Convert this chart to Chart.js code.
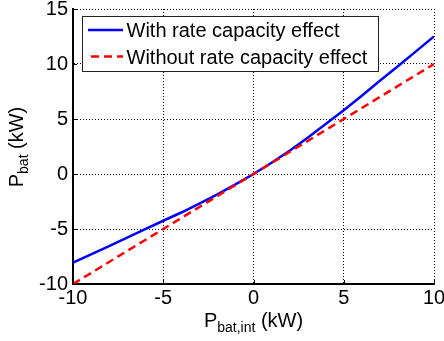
<!DOCTYPE html>
<html>
<head>
<meta charset="utf-8">
<script src="https://cdn.jsdelivr.net/npm/chart.js@4.4.0/dist/chart.umd.min.js"></script>
<style>
  html, body { margin: 0; padding: 0; background: #fff; }
  #wrap { width: 444px; height: 341px; }
</style>
</head>
<body>
<div id="wrap"><canvas id="c" width="444" height="341"></canvas></div>
<script>
// ---- data ----
const pInt = [-10, -9, -8, -7, -6, -5, -4, -3, -2, -1, 0, 1, 2, 3, 4, 5, 6, 7, 8, 9, 10];
const withRate = [-8.05, -7.3, -6.55, -5.78, -5.02, -4.25, -3.5, -2.7, -1.85, -0.95, 0, 1.02, 2.12, 3.3, 4.55, 5.8, 7.12, 8.47, 9.8, 11.15, 12.5];
const withoutRate = [-10, -9, -8, -7, -6, -5, -4, -3, -2, -1, 0, 1, 2, 3, 4, 5, 6, 7, 8, 9, 10];
const seriesNames = ['With rate capacity effect', 'Without rate capacity effect'];
const xTicks = [-10, -5, 0, 5, 10];
const yTicks = [-10, -5, 0, 5, 10, 15];
const xTitle = ['P', 'bat,int', ' (kW)'];
const yTitle = ['P', 'bat', ' (kW)'];

const FONT = '"Liberation Sans", Arial, Helvetica, sans-serif';

const toXY = (xs, ys) => xs.map((x, i) => ({ x: x, y: ys[i] }));

const decorPlugin = {
  id: 'decor',
  afterDraw(chart) {
    const ctx = chart.ctx;
    const ca = chart.chartArea;
    const xs = chart.scales.x, ys = chart.scales.y;
    ctx.save();
    // inward tick marks
    ctx.strokeStyle = '#000';
    ctx.lineWidth = 1;
    ctx.setLineDash([]);
    xTicks.forEach(v => {
      const px = Math.round(xs.getPixelForValue(v)) + 0.5;
      ctx.beginPath(); ctx.moveTo(px, ca.bottom); ctx.lineTo(px, ca.bottom - 4); ctx.stroke();
    });
    yTicks.forEach(v => {
      const py = Math.round(ys.getPixelForValue(v)) + 0.5;
      ctx.beginPath(); ctx.moveTo(ca.left, py); ctx.lineTo(ca.left + 4, py); ctx.stroke();
    });

    // legend
    const lx = 82, ly = 16, lw = 296, lh = 55;
    ctx.fillStyle = '#fff';
    ctx.fillRect(lx, ly, lw, lh);
    ctx.strokeStyle = '#222';
    ctx.lineWidth = 1;
    ctx.strokeRect(lx + 0.5, ly + 0.5, lw, lh);
    const rows = [30, 56.5];
    chart.data.datasets.forEach((ds, i) => {
      const y = rows[i];
      ctx.strokeStyle = ds.borderColor;
      ctx.lineWidth = ds.borderWidth;
      ctx.setLineDash(ds.borderDash || []);
      ctx.beginPath(); ctx.moveTo(i === 0 ? 88 : 91, y); ctx.lineTo(123, y); ctx.stroke();
      ctx.setLineDash([]);
      ctx.fillStyle = '#000';
      ctx.font = '20px ' + FONT;
      ctx.textBaseline = 'alphabetic';
      ctx.textAlign = 'left';
      ctx.fillText(ds.label, 126.5, y + 7);
    });

    // axis titles with subscripts
    const drawSub = (parts, x0, y0) => {
      let x = x0;
      parts.forEach((p, k) => {
        const sub = (k === 1);
        ctx.font = (sub ? '14px ' : '20px ') + FONT;
        ctx.fillText(p, x, y0 + (sub ? 5 : 0));
        x += ctx.measureText(p).width;
      });
    };
    const widthOf = (parts) => parts.reduce((s, p, k) => {
      ctx.font = (k === 1 ? '14px ' : '20px ') + FONT;
      return s + ctx.measureText(p).width;
    }, 0);
    ctx.fillStyle = '#000';
    ctx.textAlign = 'left';
    ctx.textBaseline = 'alphabetic';
    const wx = widthOf(xTitle);
    drawSub(xTitle, (ca.left + ca.right) / 2 - wx / 2, 327);
    const wy = widthOf(yTitle);
    ctx.translate(23, 147);
    ctx.rotate(-Math.PI / 2);
    drawSub(yTitle, -wy / 2, 0);
    ctx.restore();
  }
};

new Chart(document.getElementById('c'), {
  type: 'line',
  data: {
    datasets: [
      {
        label: seriesNames[0],
        data: toXY(pInt, withRate),
        borderColor: '#0000ff',
        borderWidth: 2.5,
        pointRadius: 0,
        tension: 0,
        fill: false,
        order: 1
      },
      {
        label: seriesNames[1],
        data: toXY(pInt, withoutRate),
        borderColor: '#ff0000',
        borderWidth: 2.5,
        borderDash: [8, 5],
        pointRadius: 0,
        tension: 0,
        fill: false,
        order: 0
      }
    ]
  },
  options: {
    responsive: false,
    devicePixelRatio: 1,
    animation: false,
    layout: { padding: { top: 9, right: 10, left: 0, bottom: 0 } },
    plugins: { legend: { display: false }, tooltip: { enabled: false }, title: { display: false } },
    scales: {
      x: {
        type: 'linear',
        min: -10, max: 10,
        afterBuildTicks: s => { s.ticks = xTicks.map(v => ({ value: v })); },
        afterFit: s => { s.height = 57; s.paddingLeft = 0; s.paddingRight = 0; },
        ticks: { color: '#000', font: { family: FONT, size: 20 }, padding: 2, maxRotation: 0, autoSkip: false },
        grid: { color: '#000', lineWidth: 1, drawTicks: false },
        border: { display: true, color: '#000', width: 2, dash: [1, 2] }
      },
      y: {
        type: 'linear',
        min: -10, max: 15,
        afterBuildTicks: s => { s.ticks = yTicks.map(v => ({ value: v })); },
        afterFit: s => { s.width = 73; s.paddingTop = 0; s.paddingBottom = 0; },
        ticks: { color: '#000', font: { family: FONT, size: 20 }, padding: 5, autoSkip: false },
        grid: { color: '#000', lineWidth: 1, drawTicks: false },
        border: { display: true, color: '#000', width: 2, dash: [1, 2] }
      }
    }
  },
  plugins: [decorPlugin]
});
</script>
</body>
</html>
